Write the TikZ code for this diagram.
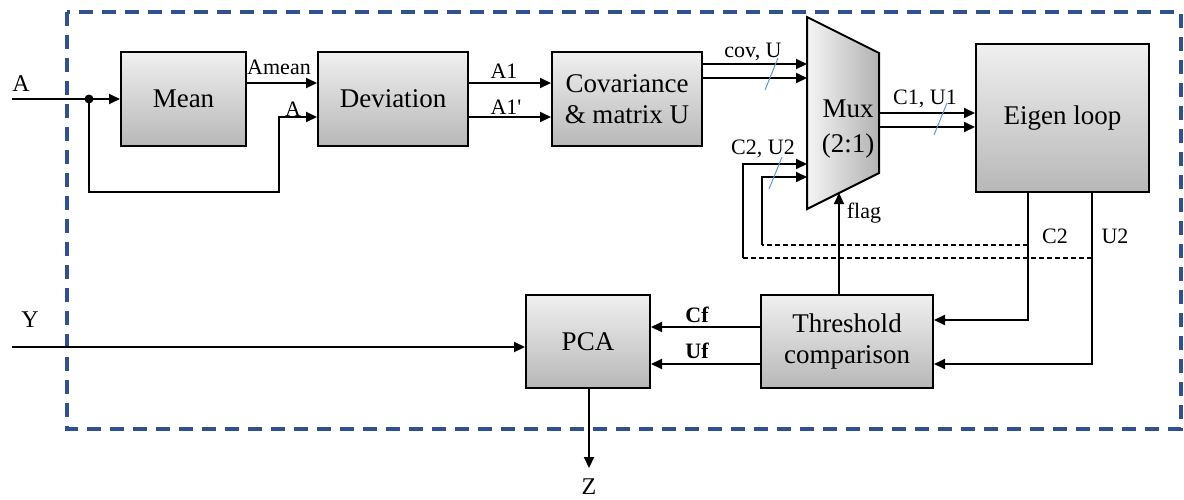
\documentclass[tikz,border=0pt]{standalone}
\usepackage{fontspec}
\setmainfont{Liberation Serif}
\newfontfamily\rawserif{Liberation Serif}
\usetikzlibrary{arrows.meta}
\definecolor{framecol}{RGB}{47,82,143}
\definecolor{buscol}{RGB}{91,155,213}
\tikzset{
  blk/.style={draw=black, line width=2pt, top color=black!6, bottom color=black!28,
    inner sep=0pt, align=center, font=\fontsize{27}{31}\selectfont},
  sig/.style={line width=2pt, -{Triangle[length=11pt,width=10pt]}},
  fb/.style={line width=1.8pt, dash pattern=on 5pt off 3pt},
  lbl/.style={inner sep=0pt, font=\fontsize{22}{24}\selectfont},
  io/.style={inner sep=0pt, font=\fontsize{24}{26}\selectfont},
  bus/.style={draw=buscol, line width=1pt},
}
\begin{document}
\begin{tikzpicture}[x=1pt,y=-1pt]
\useasboundingbox (0,0) rectangle (1184,499);

% outer dashed frame
\draw[framecol, line width=3.2pt, dash pattern=on 14pt off 9pt] (67,12) rectangle (1181,429);

% processing blocks
\node[blk, minimum width=125pt, minimum height=94pt] (mean) at (183.5,99) {Mean};
\node[blk, minimum width=150pt, minimum height=94pt] (dev) at (393,99) {Deviation};
\node[blk, minimum width=150pt, minimum height=94pt] (cov) at (627,99) {Covariance\\\& matrix U};
\node[blk, minimum width=173pt, minimum height=148pt] (eig) at (1062.5,118) {Eigen loop};
\node[blk, minimum width=124pt, minimum height=93pt] (pca) at (588,341.5) {PCA};
\node[blk, minimum width=172pt, minimum height=93pt] (thr) at (847,341.5) {Threshold\\comparison};

% multiplexer (trapezoid)
\coordinate (mtl) at (807,17);
\coordinate (mbl) at (807,209);
\coordinate (mtr) at (879,53);
\coordinate (mbr) at (879,173);
\fill[left color=black!4, right color=black!30] (mtl) -- (mtr) -- (mbr) -- (mbl) -- cycle;
\draw[line width=2pt, line join=miter] (mtl) -- (mtr) -- (mbr) -- (mbl) -- cycle;
\node[align=center, inner sep=0pt, font=\fontsize{27}{35}\selectfont] (muxlbl) at (848,129) {Mux\\(2:1)};

% input A and its branch
\coordinate (ain) at (12,99);
\coordinate (split) at (89,99);
\node[io] (alab) at (21,84) {A};
\draw[sig] (ain) -- (mean.west);
\fill (split) circle (4.5pt);
\coordinate (lp1) at (89,192);
\coordinate (lp2) at (279,192);
\coordinate (lp3) at (279,117);
\draw[sig] (split) -- (lp1) -- (lp2) -- (lp3) -- (dev.west |- lp3);
\node[lbl] (alab2) at (293,109) {A};

% Mean -> Deviation
\draw[sig] (mean.east |- 0,83) -- (dev.west |- 0,83);
\node[lbl] (amean) at (279,67) {Amean};

% Deviation -> Covariance
\draw[sig] (dev.east |- 0,83) -- (cov.west |- 0,83);
\draw[sig] (dev.east |- 0,117) -- (cov.west |- 0,117);
\node[lbl] (a1) at (504,71) {A1};
\node[lbl] (a1p) at (506,107) {\rawserif A1'};

% Covariance -> Mux
\draw[sig] (cov.east |- 0,64) -- (mtl |- 0,64);
\draw[sig] (cov.east |- 0,78) -- (mtl |- 0,78);
\node[lbl] (covu) at (753,52) {cov, U};
\draw[bus] (765,90) -- (778,58);

% Mux -> Eigen loop
\draw[sig] (mtr |- 0,113) -- (eig.west |- 0,113);
\draw[sig] (mtr |- 0,127) -- (eig.west |- 0,127);
\node[lbl] (c1u1) at (925,99) {C1, U1};
\draw[bus] (934,135) -- (947,103);

% Eigen loop outputs
\coordinate (c2top) at (1028,192);
\coordinate (u2top) at (1092,192);
\coordinate (c2tap) at (1028,245);
\coordinate (u2tap) at (1092,258);
\draw[sig] (c2top) -- (1028,320) -- (thr.east |- 0,320);
\draw[sig] (u2top) -- (1092,364) -- (thr.east |- 0,364);
\node[lbl] (c2lab) at (1055,236) {C2};
\node[lbl] (u2lab) at (1115,236) {U2};

% feedback of C2, U2 into the Mux
\draw[fb] (c2tap) -- (762,245);
\draw[fb] (u2tap) -- (743,258);
\draw[sig] (762,245) -- (762,177) -- (mtl |- 0,177);
\draw[sig] (743,258) -- (743,164) -- (mtl |- 0,164);
\node[lbl] (c2u2) at (763,149) {C2, U2};
\draw[bus] (769,189) -- (782,157);

% flag
\draw[sig] (thr.north -| 839,0) -- (839,193);
\node[lbl] (flag) at (864,213) {flag};

% Threshold -> PCA
\draw[sig] (thr.west |- 0,327) -- (pca.east |- 0,327);
\draw[sig] (thr.west |- 0,364) -- (pca.east |- 0,364);
\node[lbl, font=\fontsize{22}{24}\selectfont\bfseries] (cf) at (697,315) {Cf};
\node[lbl, font=\fontsize{22}{24}\selectfont\bfseries] (uf) at (697,351) {Uf};

% input Y
\coordinate (yin) at (12,347);
\node[io] (ylab) at (30,320) {Y};
\draw[sig] (yin) -- (pca.west |- yin);

% output Z
\coordinate (zout) at (589,468);
\draw[sig] (pca.south -| zout) -- (zout);
\node[io] (zlab) at (589,487) {Z};
\end{tikzpicture}
\end{document}
